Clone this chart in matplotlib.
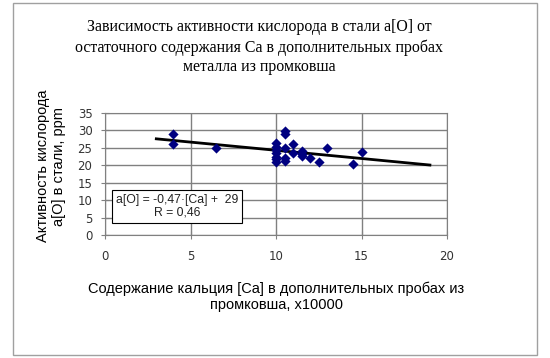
import numpy as np
import matplotlib
matplotlib.use('Agg')
import matplotlib.pyplot as plt
from matplotlib.patches import Rectangle

# data
ca = [4, 4, 6.5,
      10, 10, 10, 10, 10, 10, 10,
      10.5, 10.5, 10.5, 10.5, 10.5,
      11, 11, 11.5, 11.5, 11.5,
      12, 12.5, 13, 14.5, 15]
a_o = [28.9, 26.0, 24.9,
       26.4, 25.3, 24.4, 23.4, 22.4, 21.7, 20.8,
       29.9, 28.9, 25.1, 22.0, 21.3,
       26.1, 23.6, 24.1, 23.1, 22.6,
       22.0, 20.8, 25.0, 20.3, 23.9]

# trend line y = k*x + b
k = -0.47
b = 29
trend_x = [3, 19]

x_ticks = [0, 5, 10, 15, 20]
y_ticks = [0, 5, 10, 15, 20, 25, 30, 35]

title = ('Зависимость активности кислорода в стали а[О] от\n'
         'остаточного содержания Са в дополнительных пробах\n'
         'металла из промковша')
xlabel = 'Содержание кальция [Ca] в дополнительных пробах из\nпромковша, x10000'
ylabel = 'Активность кислорода\na[O] в стали, ppm'
eq_text = 'a[O] = -0,47·[Ca] +  29\nR = 0,46'

fig = plt.figure(figsize=(5.5, 3.58), dpi=100)
fig.patches.append(Rectangle((13 / 550, 3 / 358), 524 / 550, 352 / 358,
                             transform=fig.transFigure, fill=False,
                             edgecolor='#a0a0a0', lw=1))

ax = fig.add_axes([105 / 550, 1 - 235 / 358, 342 / 550, 122 / 358])

tx = np.array(trend_x)
ax.plot(tx, k * tx + b, color='black', lw=2, zorder=3)
ax.scatter(ca, a_o, marker='D', s=27, color='#000080', zorder=4, linewidths=0)

ax.set_xlim(0, 20)
ax.set_ylim(0, 35)
ax.set_xticks(x_ticks)
ax.set_yticks(y_ticks)
ax.grid(True, color='#808080', lw=1)
ax.set_axisbelow(True)
for s in ax.spines.values():
    s.set_color('#808080')
ax.tick_params(direction='inout', length=6, color='#808080',
               labelsize=8.5, labelcolor='#333333', pad=6)
ax.tick_params(axis='x', pad=8)

ax.text(4.2, 8.2, eq_text, ha='center', va='center', fontsize=8.8,
        family='Liberation Sans', color='#222222', linespacing=1.1,
        bbox=dict(boxstyle='square,pad=0.32', fc='white', ec='black', lw=0.8),
        zorder=5)

fig.text(0.471, 0.868, title, ha='center', va='center', fontsize=11.4,
         family='Liberation Serif', linespacing=1.3)
fig.text(276 / 550, 1 - 297 / 358, xlabel, ha='center', va='center',
         fontsize=10.5, family='Liberation Sans', linespacing=1.2)
fig.text(51 / 550, 1 - 166 / 358, ylabel, ha='center', va='center',
         rotation=90, fontsize=10.5, family='Liberation Sans', linespacing=1.25)

plt.savefig('out.png', dpi=100)
